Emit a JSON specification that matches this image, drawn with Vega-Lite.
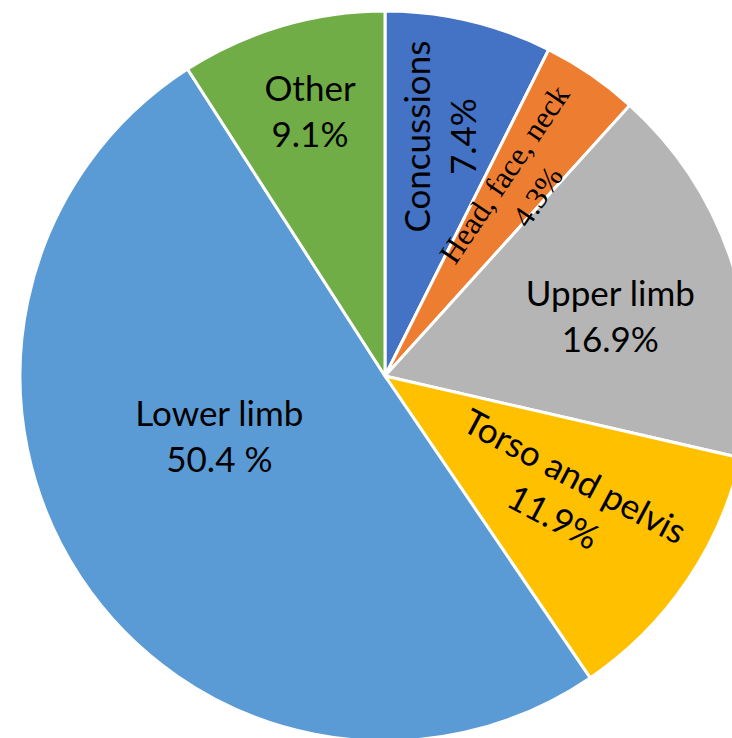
{
  "$schema": "https://vega.github.io/schema/vega-lite/v6.json",
  "width": 732,
  "height": 738,
  "autosize": "none",
  "padding": 0,
  "background": "white",
  "config": {"view": {"stroke": null}},
  "data": {
    "values": [
      {"part": "Concussions", "share": 7.4, "order": 1, "label": "Concussions\n7.4%"},
      {"part": "Head, face, neck", "share": 4.3, "order": 2, "label": "Head, face, neck\n4.3%"},
      {"part": "Upper limb", "share": 16.9, "order": 3, "label": "Upper limb\n16.9%"},
      {"part": "Torso and pelvis", "share": 11.9, "order": 4, "label": "Torso and pelvis\n11.9%"},
      {"part": "Lower limb", "share": 50.4, "order": 5, "label": "Lower limb\n50.4 %"},
      {"part": "Other", "share": 9.1, "order": 6, "label": "Other\n9.1%"}
    ]
  },
  "encoding": {
    "theta": {"field": "share", "type": "quantitative", "stack": true},
    "order": {"field": "order", "type": "quantitative", "sort": "ascending"}
  },
  "layer": [
    {
      "mark": {"type": "arc", "outerRadius": 365, "stroke": "white", "strokeWidth": 3, "x": 385, "y": 376},
      "encoding": {
        "color": {
          "field": "part",
          "type": "nominal",
          "scale": {
            "domain": ["Concussions", "Head, face, neck", "Upper limb", "Torso and pelvis", "Lower limb", "Other"],
            "range": ["#4472C4", "#ED7D31", "#B5B5B5", "#FFC000", "#5B9BD5", "#70AD47"]
          },
          "legend": null
        }
      }
    },
    {
      "mark": {"type": "text", "x": 385, "y": 376, "radius": 246, "angle": 270, "dy": -23, "align": "center", "baseline": "middle", "font": "Lato", "fontSize": 35, "lineHeight": 46, "lineBreak": "\n", "fill": "black"},
      "encoding": {"text": {"condition": {"test": "datum.part === 'Concussions'", "field": "label"}, "value": ""}}
    },
    {
      "mark": {"type": "text", "x": 385, "y": 376, "radius": 234, "angle": 304, "dy": -14, "align": "center", "baseline": "middle", "font": "Liberation Serif", "fontSize": 31, "lineHeight": 40, "lineBreak": "\n", "fill": "black"},
      "encoding": {"text": {"condition": {"test": "datum.part === 'Head, face, neck'", "field": "label"}, "value": ""}}
    },
    {
      "mark": {"type": "text", "x": 385, "y": 376, "radius": 232, "dx": 4, "dy": -11, "align": "center", "baseline": "middle", "font": "Lato", "fontSize": 35, "lineHeight": 46, "lineBreak": "\n", "fill": "black"},
      "encoding": {"text": {"condition": {"test": "datum.part === 'Upper limb'", "field": "label"}, "value": ""}}
    },
    {
      "mark": {"type": "text", "x": 385, "y": 376, "radius": 216, "angle": 28, "dy": -23, "align": "center", "baseline": "middle", "font": "Lato", "fontSize": 35, "lineHeight": 46, "lineBreak": "\n", "fill": "black"},
      "encoding": {"text": {"condition": {"test": "datum.part === 'Torso and pelvis'", "field": "label"}, "value": ""}}
    },
    {
      "mark": {"type": "text", "x": 385, "y": 376, "radius": 177, "dx": -18, "dy": -59, "align": "center", "baseline": "middle", "font": "Lato", "fontSize": 35, "lineHeight": 46, "lineBreak": "\n", "fill": "black"},
      "encoding": {"text": {"condition": {"test": "datum.part === 'Lower limb'", "field": "label"}, "value": ""}}
    },
    {
      "mark": {"type": "text", "x": 385, "y": 376, "radius": 273, "dx": 2, "dy": -24, "align": "center", "baseline": "middle", "font": "Lato", "fontSize": 35, "lineHeight": 46, "lineBreak": "\n", "fill": "black"},
      "encoding": {"text": {"condition": {"test": "datum.part === 'Other'", "field": "label"}, "value": ""}}
    }
  ]
}
